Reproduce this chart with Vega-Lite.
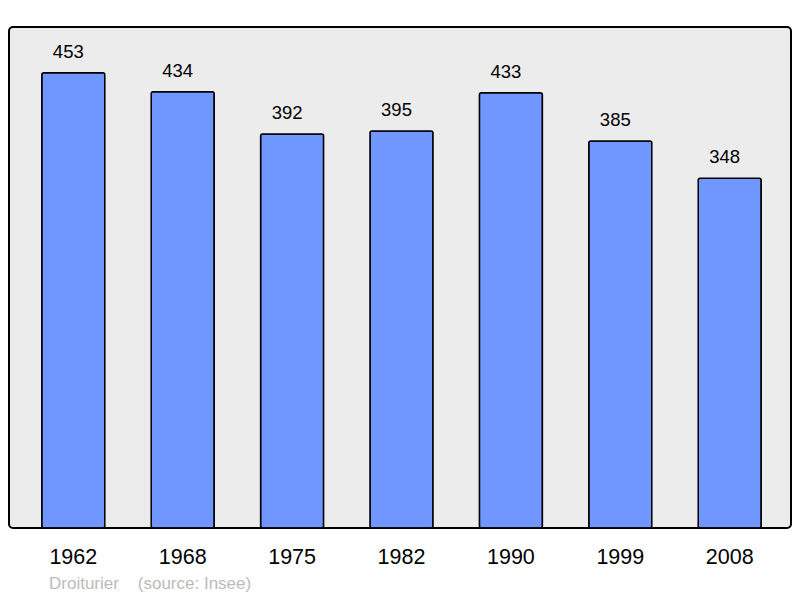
{
  "$schema": "https://vega.github.io/schema/vega-lite/v6.json",
  "width": 782,
  "height": 501,
  "autosize": {"type": "none"},
  "padding": {"left": 9, "top": 27, "right": 9, "bottom": 70},
  "background": "white",
  "config": {
    "view": {"fill": "#ececec", "stroke": "#000000", "strokeWidth": 2, "cornerRadius": 4},
    "font": "Liberation Sans"
  },
  "title": {
    "text": "Droiturier \u00a0\u00a0\u00a0(source: Insee)",
    "orient": "bottom",
    "anchor": "start",
    "dx": 40,
    "offset": 8,
    "fontSize": 17,
    "fontWeight": "normal",
    "color": "#bbbbbb",
    "font": "Liberation Sans"
  },
  "data": {
    "values": [
      {"year": "1962", "pop": 453},
      {"year": "1968", "pop": 434},
      {"year": "1975", "pop": 392},
      {"year": "1982", "pop": 395},
      {"year": "1990", "pop": 433},
      {"year": "1999", "pop": 385},
      {"year": "2008", "pop": 348}
    ]
  },
  "encoding": {
    "x": {
      "field": "year", "type": "nominal", "sort": null,
      "scale": {"paddingInner": 0.424, "paddingOuter": 0.286, "align": 0.524},
      "axis": {"title": null, "domain": false, "ticks": false, "labelAngle": 0, "labelFontSize": 21.5, "labelColor": "#000000", "labelPadding": 18, "labelFont": "Liberation Sans"}
    },
    "y": {
      "field": "pop", "type": "quantitative",
      "scale": {"domain": [0, 498.5], "nice": false, "zero": true},
      "axis": null
    }
  },
  "layer": [
    {
      "mark": {"type": "bar", "fill": "#7096ff", "stroke": "#000000", "strokeWidth": 1.5, "cornerRadius": 2}
    },
    {
      "mark": {"type": "text", "dy": -15, "dx": -5, "baseline": "alphabetic", "fontSize": 18.5, "color": "#000000", "font": "Liberation Sans"},
      "encoding": {"text": {"field": "pop", "type": "quantitative"}}
    }
  ]
}
